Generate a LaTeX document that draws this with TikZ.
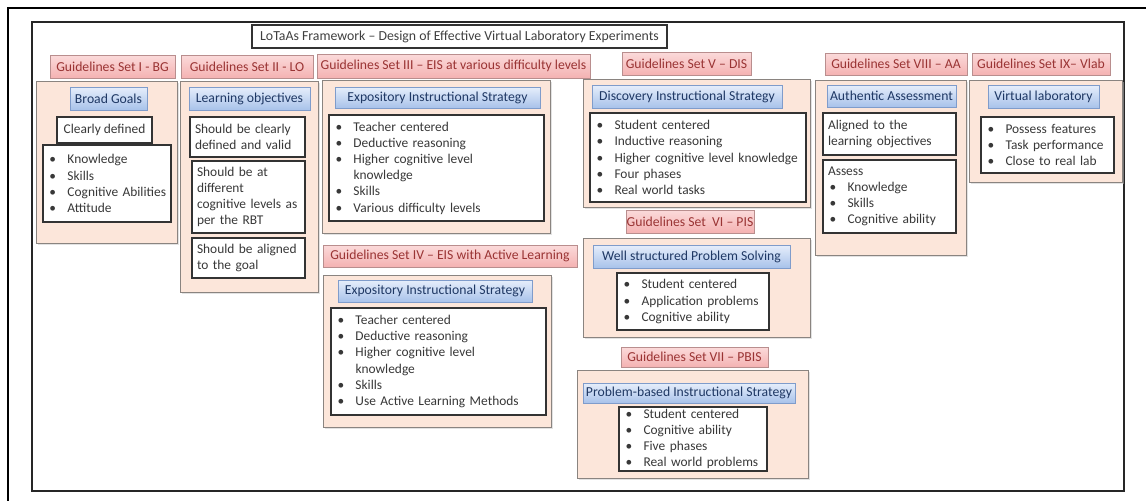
\documentclass[tikz,border=0pt]{standalone}
\usepackage{fontspec}
\setmainfont{Carlito}
\usetikzlibrary{shadows}

\definecolor{pinktop}{HTML}{FBDADA}
\definecolor{pinkbot}{HTML}{F4B2B2}
\definecolor{pinkedge}{HTML}{B98E8E}
\definecolor{pinktext}{HTML}{9A3434}
\definecolor{bluetop}{HTML}{E6EEFB}
\definecolor{bluebot}{HTML}{A8C2EA}
\definecolor{blueedge}{HTML}{7F9CCB}
\definecolor{bluetext}{HTML}{1F3864}
\definecolor{peach}{HTML}{FCE6DA}
\definecolor{panedge}{HTML}{8A8480}
\definecolor{boxtext}{HTML}{383838}

% box placed by its corner coordinates (x1,y1) -- (x2,y2)
\newcommand\bx[7]{%
  \pgfmathsetmacro\bxw{#5-#3}%
  \pgfmathsetmacro\bxh{#6-#4}%
  \pgfmathsetmacro\bxt{#5-#3-10}%
  \node[#2, minimum width=\bxw pt, minimum height=\bxh pt] (#1)
    at ({(#3+#5)/2},{(#4+#6)/2}) {#7};}
% bullet item and its continuation line
\newcommand\itm[1]{\mbox{\hspace*{1.5pt}\makebox[18pt][l]{•}#1}}
\newcommand\itc[1]{\mbox{\hspace*{19.5pt}#1}}

\begin{document}
\begin{tikzpicture}[x=1pt,y=-1pt,
  every node/.style={inner sep=0pt, outer sep=0pt},
  basefont/.style={font=\fontsize{13.4}{16.2}\selectfont},
  hdrfont/.style={font=\fontsize{13.7}{16.2}\selectfont},
  frame/.style={draw=black!85, line width=1.3pt, fill=white},
  titlebox/.style={draw=black!80, line width=1.1pt, fill=white, text=black!75,
    font=\fontsize{13.8}{16}\selectfont},
  pinkhdr/.style={hdrfont, draw=pinkedge, line width=0.8pt, top color=pinktop,
    bottom color=pinkbot, text=pinktext,
    drop shadow={shadow xshift=1.2pt, shadow yshift=-1.2pt, fill=black!25}},
  bluehdr/.style={hdrfont, draw=blueedge, line width=0.8pt, top color=bluetop,
    bottom color=bluebot, text=bluetext,
    drop shadow={shadow xshift=1.2pt, shadow yshift=-1.2pt, fill=black!25}},
  panel/.style={draw=panedge, line width=0.9pt, fill=peach,
    drop shadow={shadow xshift=1.5pt, shadow yshift=-1.5pt, fill=black!22}},
  wbox/.style={basefont, draw=black!80, line width=1.5pt, fill=white, text=boxtext,
    align=left, text width=\bxt pt, inner xsep=5pt,
    drop shadow={shadow xshift=1.3pt, shadow yshift=-1.3pt, fill=brown!60!black!45}},
  wboxc/.style={basefont, draw=black!80, line width=1.5pt, fill=white, text=boxtext,
    align=center,
    drop shadow={shadow xshift=1.3pt, shadow yshift=-1.3pt, fill=brown!60!black!45}},
]
\useasboundingbox (0,0) rectangle (1146,501);
\fill[white] (0,0) rectangle (1146,501);

% outer border and inner frame
\coordinate (otr) at (1146,8);
\coordinate (otl) at (8,8);
\coordinate (obl) at (8,501);
\draw[black, line width=1.8pt] (otr) -- (otl) -- (obl);
\bx{frame}{frame}{32}{22}{1124}{491}{}

% title
\bx{title}{titlebox}{252}{25}{667}{48}{LoTaAs Framework -- Design of Effective Virtual Laboratory Experiments}

% guideline set headers
\bx{h1}{pinkhdr}{50}{55}{175}{78}{Guidelines Set I - BG}
\bx{h2}{pinkhdr}{181}{55}{313}{78}{Guidelines Set II - LO}
\bx{h3}{pinkhdr}{317}{54}{590}{78}{Guidelines Set III -- EIS at various difficulty levels}
\bx{h5}{pinkhdr}{622}{52}{751}{75}{Guidelines Set V -- DIS}
\bx{h8}{pinkhdr}{825}{53}{967}{75}{Guidelines Set VIII -- AA}
\bx{h9}{pinkhdr}{972}{53}{1110}{75}{Guidelines Set IX-- Vlab}
\bx{h4}{pinkhdr}{323}{245}{577}{267}{Guidelines Set IV -- EIS with Active Learning}
\bx{h6}{pinkhdr}{626}{210}{754}{233}{Guidelines Set\ \ VI -- PIS}
\bx{h7}{pinkhdr}{621}{347}{768}{367}{Guidelines Set VII -- PBIS}

% panels
\bx{c1}{panel}{36}{81}{177}{243}{}
\bx{c2}{panel}{180}{81}{318}{292}{}
\bx{c3}{panel}{322}{80}{550}{233}{}
\bx{c4}{panel}{323}{275}{551}{427}{}
\bx{c5}{panel}{583}{79}{810}{207}{}
\bx{c6}{panel}{583}{238}{810}{337}{}
\bx{c7}{panel}{577}{370}{808}{478}{}
\bx{c8}{panel}{815}{80}{966}{255}{}
\bx{c9}{panel}{969}{80}{1122}{182}{}

% strategy headers
\bx{b1}{bluehdr}{70}{87}{147}{110}{Broad Goals}
\bx{b2}{bluehdr}{189}{87}{310}{110}{Learning objectives}
\bx{b3}{bluehdr}{335}{87}{540}{108}{Expository Instructional Strategy}
\bx{b5}{bluehdr}{592}{85}{782}{108}{Discovery Instructional Strategy}
\bx{b8}{bluehdr}{827}{85}{956}{107}{Authentic Assessment}
\bx{b9}{bluehdr}{988}{85}{1099}{108}{Virtual laboratory}
\bx{b4}{bluehdr}{338}{280}{532}{302}{Expository Instructional Strategy}
\bx{b6}{bluehdr}{593}{245}{790}{268}{Well structured Problem Solving}
\bx{b7}{bluehdr}{583}{383}{795}{403}{Problem-based Instructional Strategy}

% content boxes
\bx{w1a}{wboxc}{57}{117}{152}{143}{Clearly defined}
\bx{w1b}{wbox}{43}{145}{171}{222}{\itm{Knowledge}\\\itm{Skills}\\\itm{Cognitive Abilities}\\\itm{Attitude}\\[-6pt]}
\bx{w2a}{wbox}{190}{117}{305}{157}{\mbox{Should be clearly}\\\mbox{defined and valid}}
\bx{w2b}{wbox}{192}{161}{305}{233}{\mbox{Should be at}\\\mbox{different}\\\mbox{cognitive levels as}\\\mbox{per the RBT}}
\bx{w2c}{wbox}{192}{238}{305}{278}{\mbox{Should be aligned}\\\mbox{to the goal}}
\bx{w3}{wbox}{329}{115}{544}{221}{\itm{Teacher centered}\\\itm{Deductive reasoning}\\\itm{Higher cognitive level}\\\itc{knowledge}\\\itm{Skills}\\\itm{Various difficulty levels}}
\bx{w4}{wbox}{331}{308}{546}{415}{\itm{Teacher centered}\\\itm{Deductive reasoning}\\\itm{Higher cognitive level}\\\itc{knowledge}\\\itm{Skills}\\\itm{Use Active Learning Methods}}
\bx{w5}{wbox}{590}{113}{806}{202}{\itm{Student centered}\\\itm{Inductive reasoning}\\\itm{Higher cognitive level knowledge}\\\itm{Four phases}\\\itm{Real world tasks}}
\bx{w6}{wbox}{617}{273}{769}{330}{\itm{Student centered}\\\itm{Application problems}\\\itm{Cognitive ability}}
\bx{w7}{wbox}{619}{407}{767}{471}{\itm{Student centered}\\\itm{Cognitive ability}\\\itm{Five phases}\\\itm{Real world problems}}
\bx{w8a}{wbox}{823}{113}{956}{155}{\mbox{Aligned to the}\\\mbox{learning objectives}}
\bx{w8b}{wbox}{823}{160}{956}{233}{\mbox{Assess}\\\itm{Knowledge}\\\itm{Skills}\\\itm{Cognitive ability}}
\bx{w9}{wbox}{981}{117}{1114}{173}{\itm{Possess features}\\\itm{Task performance}\\\itm{Close to real lab}}
\end{tikzpicture}
\end{document}
